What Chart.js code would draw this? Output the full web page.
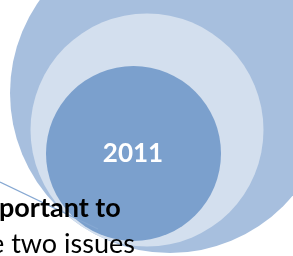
<!DOCTYPE html>
<html>
<head>
<meta charset="utf-8">
<script src="https://cdn.jsdelivr.net/npm/chart.js@4.4.1/dist/chart.umd.min.js"></script>
<style>
  body { margin: 0; background: #fff; }
  #wrap { position: relative; width: 293px; height: 256px; overflow: hidden; }
</style>
</head>
<body>
<div id="wrap">
  <canvas id="rings" width="293" height="256"></canvas>
</div>
<script>
// nested rings, outer -> inner
const ringLabels = ['', '', '2011'];
const ringX = [170, 147, 133.5];
const ringY = [93, 130, 153.5];
const ringR = [160, 116.5, 87.5];

// leader line from the text to the rings
const leaderX = [0, 98];
const leaderY = [182, 229];

// the cut off text lines at the bottom left
const textLines = ['portant to', 'e two issues'];

const ringColors = ['#A7BFDE', '#D3DFEE', '#7BA0CD'];

const datasets = [{
    type: 'scatter',
    data: leaderX.map((x, i) => ({ x: x, y: leaderY[i] })),
    showLine: true,
    borderColor: '#86A8D2',
    borderWidth: 1.3,
    pointRadius: 0,
    order: 0
}];
// inner ring is drawn last (on top)
for (let i = 0; i < ringX.length; i++) {
    datasets.push({
        type: 'bubble',
        label: ringLabels[i],
        data: [{ x: ringX[i], y: ringY[i], r: ringR[i] }],
        backgroundColor: ringColors[i],
        borderWidth: 0,
        order: 3 - i
    });
}

const textPlugin = {
    id: 'ringText',
    afterDatasetsDraw(chart) {
        const ctx = chart.ctx;
        const xs = chart.scales.x, ys = chart.scales.y;
        ctx.save();
        // label of the inner ring
        ctx.fillStyle = '#fff';
        ctx.font = 'bold 26px Lato';
        ctx.textAlign = 'center';
        ctx.textBaseline = 'middle';
        ctx.fillText(ringLabels[2], xs.getPixelForValue(ringX[2]) - 0.5, ys.getPixelForValue(ringY[2]));
        // paragraph text
        ctx.fillStyle = '#000';
        ctx.textAlign = 'left';
        ctx.textBaseline = 'alphabetic';
        ctx.font = 'bold 27px Lato';
        ctx.fillText(textLines[0], -1, 217);
        ctx.font = '27px Lato';
        ctx.fillText(textLines[1], -10, 253);
        ctx.restore();
    }
};

new Chart(document.getElementById('rings'), {
    type: 'bubble',
    data: { datasets: datasets },
    options: {
        responsive: false,
        animation: false,
        layout: { padding: 0, autoPadding: false },
        plugins: { legend: { display: false }, tooltip: { enabled: false } },
        scales: {
            x: { type: 'linear', min: 0, max: 293, display: false },
            y: { type: 'linear', min: 0, max: 256, reverse: true, display: false }
        }
    },
    plugins: [textPlugin]
});
</script>
</body>
</html>
